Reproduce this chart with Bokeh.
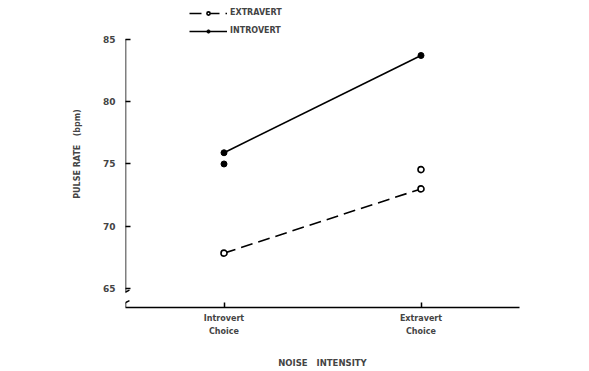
from bokeh.plotting import figure
from bokeh.models import Range1d, FixedTicker, Legend, LegendItem
from bokeh.embed import file_html
from bokeh.resources import INLINE

# ---- data ----
categories = ["Introvert\nChoice", "Extravert\nChoice"]
cat_x = [0, 1]
introvert = [75.9, 83.7]
extravert = [67.85, 73.0]
introvert_extra_x = [0]
introvert_extra = [75.0]
extravert_extra_x = [1]
extravert_extra = [74.55]
y_ticks = [65, 70, 75, 80, 85]

FONT = "DejaVu Sans"
NB = "\u00a0"

p = figure(width=589, height=371, output_backend="svg", toolbar_location=None,
           x_range=Range1d(-0.5, 1.5), y_range=Range1d(63.49, 88.11),
           min_border_left=125, min_border_right=70, min_border_top=0,
           min_border_bottom=62)
p.outline_line_color = None
p.xgrid.visible = False
p.ygrid.visible = False
p.background_fill_color = "white"
p.border_fill_color = "white"

# left axis (line drawn manually for the break)
ya = p.yaxis[0]
ya.ticker = FixedTicker(ticks=y_ticks)
ya.axis_line_color = None
ya.major_tick_in = 5
ya.major_tick_out = 0
ya.minor_tick_line_color = None
ya.major_tick_line_width = 1.5
ya.major_label_text_font = FONT
ya.major_label_text_font_style = "bold"
ya.major_label_text_font_size = "9px"
ya.major_label_standoff = 10
ya.axis_label = "PULSE" + NB + "RATE" + NB * 3 + "(bpm)"
ya.axis_label_text_font = FONT
ya.axis_label_text_font_style = "bold"
ya.axis_label_text_font_size = "8px"
ya.axis_label_standoff = 18

xa = p.xaxis[0]
xa.ticker = FixedTicker(ticks=cat_x)
xa.major_label_overrides = {cat_x[i]: categories[i] for i in range(len(cat_x))}
xa.axis_line_width = 1.5
xa.major_tick_in = 5
xa.major_tick_out = 0
xa.major_tick_line_width = 1.5
xa.minor_tick_line_color = None
xa.major_label_text_font = FONT
xa.major_label_text_font_style = "bold"
xa.major_label_text_font_size = "8px"
xa.major_label_text_line_height = 1.5
xa.major_label_standoff = 6
xa.axis_label = "NOISE" + NB * 3 + "INTENSITY"
xa.axis_label_text_font = FONT
xa.axis_label_text_font_style = "bold"
xa.axis_label_text_font_size = "8.5px"
xa.axis_label_standoff = 19

# manual left axis line with break
x0 = -0.5
brk_hi = 64.72
brk_lo = 63.88
p.segment(x0=[x0], y0=[85], x1=[x0], y1=[brk_hi], line_color="black", line_width=1.5)
p.segment(x0=[x0], y0=[brk_lo], x1=[x0], y1=[63.49], line_color="black", line_width=1.5)
dx = 0.02
dy = 0.16
p.segment(x0=[x0 - dx, x0 - dx], y0=[brk_hi - dy, brk_lo - dy],
          x1=[x0 + dx, x0 + dx], y1=[brk_hi + dy, brk_lo + dy],
          line_color="black", line_width=1.5)

# data
li = p.line(cat_x, introvert, line_color="black", line_width=1.6)
si = p.scatter(cat_x, introvert, marker="circle", size=6, fill_color="black", line_color="black")
p.scatter(introvert_extra_x, introvert_extra, marker="circle", size=6, fill_color="black", line_color="black")

le = p.line(cat_x, extravert, line_color="black", line_width=1.6, line_dash="12 6")
se = p.scatter(cat_x, extravert, marker="circle", size=6, fill_color="white", line_color="black", line_width=1.6)
p.scatter(extravert_extra_x, extravert_extra, marker="circle", size=6, fill_color="white", line_color="black", line_width=1.6)

legend = Legend(items=[LegendItem(label="EXTRAVERT", renderers=[le, se]),
                       LegendItem(label="INTROVERT", renderers=[li, si])],
                location=(64, 272), orientation="vertical")
legend.border_line_alpha = 0
legend.background_fill_alpha = 0
legend.padding = 0
legend.margin = 0
legend.spacing = 9
legend.glyph_height = 8
legend.label_height = 8
legend.glyph_width = 38
legend.label_standoff = 3
legend.label_text_font = FONT
legend.label_text_font_style = "bold"
legend.label_text_font_size = "8px"
p.add_layout(legend)

open("out.html", "w").write(file_html(p, INLINE))
